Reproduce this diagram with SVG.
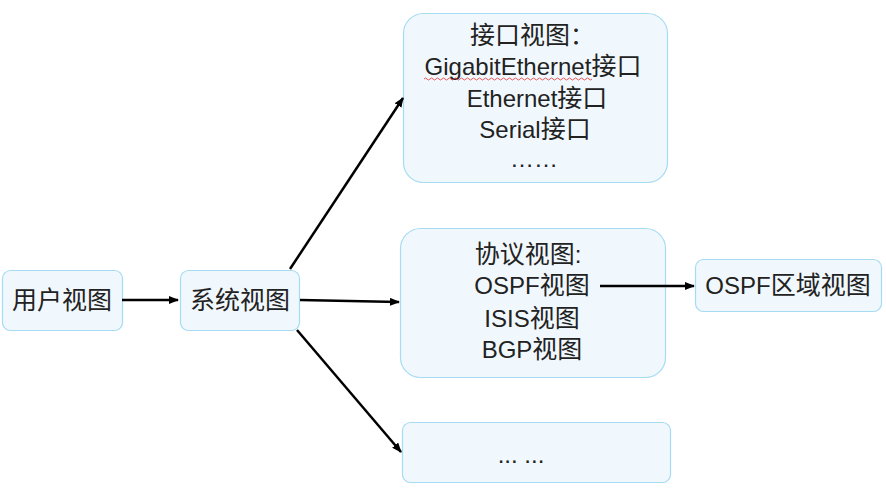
<svg xmlns="http://www.w3.org/2000/svg" width="886" height="495" viewBox="0 0 886 495">
<style>
.box{fill:#f1f8fd;stroke:#a6dcf3;stroke-width:1.2}
.t{font-family:"Liberation Sans","Noto Sans CJK SC",sans-serif;font-size:24px;fill:#222;text-anchor:middle}
.k{font-size:25px}
.c{stroke:#000;stroke-width:2.5;fill:none;marker-end:url(#ah)}
</style>
<defs>
<marker id="ah" markerWidth="10" markerHeight="8" refX="9" refY="4" orient="auto" markerUnits="userSpaceOnUse">
<path d="M0,0 L10,4 L0,8 Z" fill="#000"/>
</marker>
</defs>
<rect width="886" height="495" fill="#fff"/>
<g id="n-user"><rect class="box" x="2.5" y="270.5" width="120" height="60" rx="8"/><text class="t k" x="62" y="309">用户视图</text></g>
<g id="n-system"><rect class="box" x="180.5" y="270.5" width="119" height="60" rx="8"/><text class="t k" x="240" y="309">系统视图</text></g>
<g id="n-iface"><rect class="box" x="403.5" y="13.5" width="264" height="169" rx="20"/>
<text class="t" x="532" y="44"><tspan class="k">接口视图</tspan>：</text>
<text class="t" x="533" y="75">GigabitEthernet<tspan class="k">接口</tspan></text>
<path d="M424,79 q1.5,-2 3,0 t3,0 t3,0 t3,0 t3,0 t3,0 t3,0 t3,0 t3,0 t3,0 t3,0 t3,0 t3,0 t3,0 t3,0 t3,0 t3,0 t3,0 t3,0 t3,0 t3,0 t3,0 t3,0 t3,0 t3,0 t3,0 t3,0 t3,0 t3,0 t3,0 t3,0 t3,0 t3,0 t3,0 t3,0 t3,0 t3,0 t3,0 t3,0 t3,0 t3,0 t3,0 t3,0 t3,0 t3,0 t3,0 t3,0 t3,0 t3,0 t3,0 t3,0 t3,0 t3,0 t3,0 t3,0 t3,0" fill="none" stroke="#e03030" stroke-width="0.8"/>
<text class="t" x="537" y="107">Ethernet<tspan class="k">接口</tspan></text>
<text class="t" x="535" y="138">Serial<tspan class="k">接口</tspan></text>
<text class="t" x="534" y="167">……</text>
</g>
<g id="n-proto"><rect class="box" x="400.5" y="228.5" width="265" height="149" rx="20"/>
<text class="t" x="528" y="263"><tspan class="k">协议视图</tspan>:</text>
<text class="t" x="532" y="294">OSPF<tspan class="k">视图</tspan></text>
<text class="t" x="532" y="327">ISIS<tspan class="k">视图</tspan></text>
<text class="t" x="532" y="358">BGP<tspan class="k">视图</tspan></text>
</g>
<g id="n-area"><rect class="box" x="695.5" y="259.5" width="186" height="52" rx="8"/><text class="t" x="788" y="294">OSPF<tspan class="k">区域视图</tspan></text></g>
<g id="n-more"><rect class="box" x="402.5" y="422.5" width="268" height="60" rx="8"/><text class="t" x="521" y="463">... ...</text></g>
<g id="connectors">
<line class="c" x1="122" y1="300" x2="178" y2="300"/>
<line class="c" x1="290" y1="269" x2="403" y2="98"/>
<line class="c" x1="300" y1="300" x2="399" y2="302"/>
<line class="c" x1="297" y1="330" x2="401" y2="452"/>
<line class="c" x1="600" y1="286" x2="694" y2="286"/>
</g>
</svg>
